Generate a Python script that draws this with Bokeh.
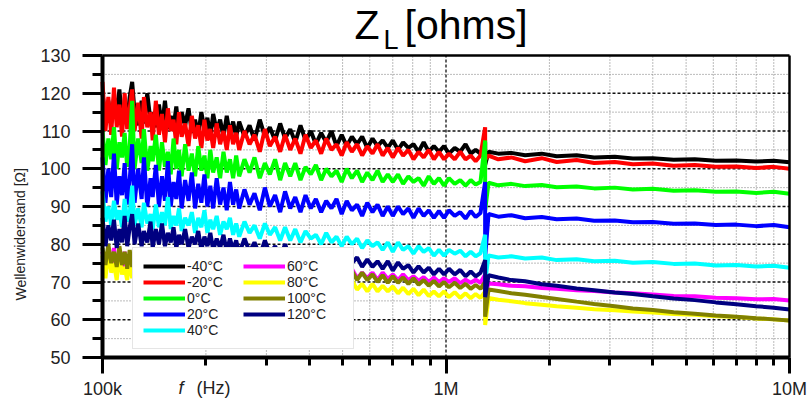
from math import pi
from bokeh.plotting import figure
from bokeh.models import FixedTicker, LabelSet, ColumnDataSource, Range1d, LogAxis, LinearAxis
from bokeh.core.properties import value
from bokeh.embed import file_html
from bokeh.resources import INLINE

# frequency points in kHz (the two 1300 kHz points form the resonance spike)
freq_khz = [100, 102, 104, 106, 108, 110, 112, 114, 116, 118,
            120, 122, 124, 127, 130, 132, 135, 138, 140, 143,
            146, 149, 152, 155, 158, 161, 164, 167, 170, 174,
            178, 182, 186, 190, 194, 198, 202, 206, 210, 215,
            220, 225, 230, 235, 240, 245,
            250, 259, 268, 277, 287, 297, 307, 318, 329, 340,
            352, 364, 377, 390, 404, 418, 433, 448, 464, 480,
            497, 514, 532, 551, 570, 590, 611, 632, 654, 677,
            700, 725, 750, 777, 804, 832, 861, 891, 922, 954,
            987, 1020, 1060, 1100, 1140, 1180, 1220, 1260,
            1300, 1300,
            1330, 1420, 1550, 1700, 1900, 2100, 2400, 2700, 3100, 3500,
            4000, 4600, 5300, 6100, 7000, 8000, 9000, 10000]

z_m40 = [120, 113.5, 118, 112, 119, 114.5, 121, 113, 117, 112.5,
         119, 123, 115, 111.5, 118, 112, 120, 112.5, 115, 111,
         117, 111, 118, 110.5, 114, 111, 116.5, 109.5, 115, 111.5,
         116, 109.5, 113, 109, 115, 110.5, 113.5, 108.5, 114.5, 110,
         113, 108.5, 114, 109, 112.5, 108.5,
         112.5, 108.5, 111.5, 107.5, 113, 108.5, 111, 107.5, 112, 108,
         110.5, 107, 111.5, 107.5, 110, 106.5, 109.5, 107, 110, 106,
         109, 106, 108.5, 106.5, 108.5, 105.5, 108, 106, 107.5, 105.5,
         107.5, 105, 107, 105.5, 106.5, 104.5, 107, 104.5, 106, 104.5,
         106, 104, 105.5, 104.5, 106.5, 104, 105, 104,
         107, 101,
         104.5, 104, 104.2, 103.6, 104, 103.3, 103.6, 103, 103.2, 102.7,
         102.8, 102.4, 102.5, 102.1, 102.2, 101.9, 102.1, 101.7]

z_m20 = [123, 110, 119, 109, 121.5, 111, 117, 108.5, 120, 110.5,
         116, 121, 110, 117.5, 108, 119, 111, 115, 107.5, 118,
         109, 114.5, 107, 116, 110, 113, 106.5, 115, 108.5, 112,
         106, 114, 108, 111.5, 105.5, 113, 107.5, 110.5, 105.5, 112,
         106.5, 110, 105, 111.5, 106.5, 109.5,
         105, 110, 106.5, 109, 104.5, 110.5, 106, 108.5, 104.5, 109,
         105, 108, 104, 109, 105.5, 107.5, 104, 108, 105, 106.5,
         103.5, 107, 104.5, 106.5, 103.5, 106, 104, 106.5, 103.5, 105.5,
         103, 105.5, 103.5, 105, 102.5, 104.5, 103, 105, 102.5, 104.5,
         102.5, 104, 102.5, 104.5, 102.5, 103.5, 102, 103.5,
         111, 102.5,
         103.5, 102.5, 103, 102, 102.8, 101.8, 102.3, 101.5, 101.8, 101.2,
         101.4, 100.8, 101, 100.5, 100.6, 100.2, 100.5, 100]

z_0 = [110, 101, 108, 102.5, 111, 100, 107, 103, 109.5, 100.5,
       106, 118, 100, 108, 101.5, 110.5, 99.5, 106, 102, 109,
       99.5, 107, 100.5, 104.5, 98.5, 108, 100, 105, 98, 106.5,
       99.5, 104, 98, 106, 99.5, 103.5, 97.5, 105, 99, 103,
       97.5, 104.5, 99, 102.5, 97.5, 103.5,
       98, 102.5, 99, 103, 97.5, 101.5, 98.5, 102.5, 97, 101.5,
       98, 101.5, 97, 100.5, 98.5, 101, 97, 100, 98, 99.5,
       96.5, 100, 97.5, 99.5, 96.5, 99, 97, 99.5, 96.5, 98.5,
       96.5, 98.5, 96, 98, 96.5, 97.5, 95.5, 98, 96, 97.5,
       95.5, 97.5, 96, 97, 95.5, 97, 95.8, 96.5,
       107.5, 89,
       96.3, 95.6, 96, 95.4, 95.7, 95.1, 95.3, 94.8, 95, 94.5,
       94.7, 94.2, 94.3, 93.9, 94, 93.6, 93.9, 93.4]

z_20 = [103, 91, 100, 92.5, 104, 90.5, 98, 93, 101.5, 90.5,
        97, 106.5, 91, 100, 92, 103, 90, 97.5, 92.5, 101,
        90, 98, 91.5, 102, 90, 96.5, 92, 99.5, 89.5, 97,
        91.5, 99, 89.5, 96, 91, 98.5, 90, 95.5, 89.5, 97.5,
        90.5, 95, 89, 96.5, 90.5, 94.5,
        89.5, 94.5, 90.5, 93.5, 89, 95, 90, 93, 88.5, 94,
        89.5, 92.5, 88.5, 93, 89.5, 92, 88.5, 91.5, 89.5, 92,
        88, 91.5, 89, 90.5, 87.5, 91, 88.5, 90.5, 87.5, 90,
        87.5, 90, 88, 89.5, 87, 89.5, 87.5, 89, 87, 88.8,
        87, 89, 87.5, 88.5, 86.8, 88.8, 87.2, 88.3,
        96.5, 76.5,
        88, 87.3, 87.7, 86.9, 87.2, 86.6, 86.8, 86.2, 86.3, 85.8,
        85.9, 85.4, 85.5, 85.1, 85.2, 84.8, 85.1, 84.5]

z_40 = [94, 86, 90, 85, 91.5, 86.5, 89, 84.5, 92, 86,
        88, 95.5, 85, 89.5, 84.5, 91, 85.5, 88, 84, 90.5,
        84.5, 88.5, 85, 92.5, 84, 87.5, 85, 89.5, 83.5, 87,
        85, 88.5, 83, 87, 84.5, 89, 83, 86.5, 84, 87.5,
        82.5, 86, 84, 87, 82.5, 85.5,
        82, 86, 83, 85, 81.5, 85.5, 82.5, 84.5, 81, 84.5,
        81, 84, 80.5, 83.5, 81.5, 82.5, 80, 83, 80.5, 82,
        79.5, 82, 80, 81.5, 79, 81, 79.5, 80.5, 78.5, 80.5,
        78, 80.5, 78.5, 79.5, 77.5, 79.5, 78, 79, 77, 78.5,
        77, 78.5, 77.5, 78.3, 76.8, 78, 76.8, 77.6,
        82.5, 70,
        77, 76.5, 76.8, 76.2, 76.5, 75.8, 76, 75.5, 75.6, 75.1,
        75.3, 74.8, 74.9, 74.4, 74.5, 74.1, 74.3, 73.8]

z_60 = [78, 73, 77, 74, 79, 73, 77, 74, 78, 73,
        76, 73, 77, 72.5, 76, 73, 76.5, 72.5, 76, 73,
        75.5, 72.5, 76, 72.5, 75, 72.5, 75, 72.5, 74.5, 72,
        74.5, 72, 75.5, 72.5, 74, 72, 75, 73, 74.5, 72.5,
        75, 72.5, 74.5, 73, 75, 72.5,
        75, 72.5, 74.5, 72, 75, 72.5, 74, 72, 74.5, 72,
        74, 72, 74.5, 71.5, 73.5, 72, 74, 71.5, 73.5, 71.5,
        73, 71.5, 73.5, 71, 72.5, 71, 72.5, 70.5, 72.5, 70.8,
        72, 70.5, 72, 70.5, 71.5, 70.3, 71.3, 70, 71.2, 70,
        71, 70, 71, 69.7, 70.6, 69.8, 70.6, 69.8,
        72, 67,
        69.6, 69.4, 69, 68.9, 68.4, 68.2, 67.8, 67.6, 67.2, 67,
        66.7, 66.3, 66.2, 65.8, 65.7, 65.4, 65.5, 65.1]

z_80 = [77, 71, 78, 72.5, 75, 70.5, 77, 72, 74, 70.5,
        76, 71, 74.5, 70.5, 75.5, 70.5, 74, 70, 74.5, 70,
        73.5, 69.5, 75, 70, 73, 69.5, 74, 69, 73, 70,
        72.5, 69.5, 73.5, 69, 72, 69.5, 73, 69, 72.5, 69.5,
        72, 69, 73, 69.5, 72, 69,
        72.5, 69.5, 72, 69, 72.5, 69.5, 71.5, 69, 72, 69.5,
        71.5, 69, 71.5, 68.5, 71, 69, 70.5, 68.5, 70.5, 68.5,
        70, 68, 70.5, 68, 69.5, 67.5, 69.5, 67.5, 69, 67.5,
        68.8, 67, 68.5, 66.8, 68.2, 66.5, 68, 66.3, 67.5, 66.2,
        67.5, 66, 67.3, 65.8, 67, 65.7, 66.8, 65.8,
        67.5, 58.6,
        65.8, 65.3, 64.9, 64.4, 64, 63.6, 63.2, 62.8, 62.5, 62.2,
        61.9, 61.5, 61.3, 60.9, 60.7, 60.3, 60.1, 59.8]

z_100 = [79, 74.5, 80, 75, 78, 74, 79.5, 74.5, 78, 73.5,
         78.5, 74, 77.5, 73.5, 78, 73.5, 77, 73.5, 77.5, 73,
         76.5, 73, 77.5, 73, 76, 72.5, 76.5, 73, 75.5, 72.5,
         76, 72.5, 75.5, 72, 76, 72.5, 75, 72, 75.5, 72,
         75, 72, 76, 72, 74.5, 72,
         75.5, 72.5, 75, 72, 75.5, 72, 74.5, 72, 75, 71.5,
         74.5, 71.5, 74.5, 72, 74, 71, 73.5, 71, 73.5, 71,
         73, 71, 73, 70.5, 72.5, 70.5, 72, 70, 71.8, 69.8,
         71.5, 69.8, 71.2, 69.5, 71, 69.3, 70.5, 69, 70.3, 68.8,
         70, 68.6, 69.8, 68.4, 69.5, 68.2, 69.2, 68.2,
         70, 60.8,
         68, 67.6, 67, 66.6, 66, 65.5, 64.8, 64.2, 63.6, 63,
         62.6, 62, 61.6, 61.1, 60.8, 60.4, 60.1, 59.8]

z_120 = [87, 79.5, 85, 81, 86.5, 79, 84, 80.5, 87.5, 79.5,
         84.5, 88, 80, 85.5, 79.5, 83.5, 80.5, 86, 79, 84,
         80, 85.5, 79.5, 83, 80.5, 84.5, 79, 82.5, 80, 84,
         79, 82, 80, 83.5, 78.5, 82, 79.5, 83, 78.5, 81.5,
         79, 82.5, 78, 81.5, 78.5, 81,
         77.5, 81.5, 78, 80.5, 77, 81, 77.5, 79.5, 76.5, 80,
         76, 79, 76.5, 78.5, 75.5, 78, 76, 77.5, 74.5, 77.5,
         74.5, 77, 75, 76.5, 74, 76, 74, 75.5, 73.5, 75.5,
         73, 75.2, 73.5, 74.5, 72.5, 74.2, 72.5, 73.8, 72, 73.5,
         72, 73.5, 72, 73.2, 71.5, 72.8, 71.5, 72.4,
         75.8, 66,
         71.8, 71.2, 70.5, 70.2, 69.4, 69, 68.3, 67.8, 67.2, 66.8,
         66.2, 65.6, 65.2, 64.6, 64.1, 63.6, 63.2, 62.7]

series_labels = ["-40°C", "-20°C", "0°C", "20°C", "40°C", "60°C", "80°C", "100°C", "120°C"]
series_colors = ["#000000", "#ff0000", "#00ff00", "#0000ff", "#00ffff",
                 "#ff00ff", "#ffff00", "#808000", "#000080"]
series_values = [z_m40, z_m20, z_0, z_20, z_40, z_60, z_80, z_100, z_120]

x_lo, x_hi = 1e5, 1e7
y_lo, y_hi = 50, 130
y_ticks = [50, 60, 70, 80, 90, 100, 110, 120, 130]
y_minor = [55, 65, 75, 85, 95, 105, 115, 125]
x_ticks = [1e5, 1e6, 1e7]
x_minor = [2e5, 3e5, 4e5, 5e5, 6e5, 7e5, 8e5, 9e5, 2e6, 3e6, 4e6, 5e6, 6e6, 7e6, 8e6, 9e6]
x_tick_labels = ["100k", "1M", "10M"]

# texts around the data box: title Z_L [ohms], y title, x title
outer_texts = ["Z", "L", "[ohms]", "Wellenwiderstand [Ω]", "f", "(Hz)"]

FONT = "Liberation Sans"
W, H = 809, 400
BOX_L, BOX_R, BOX_T, BOX_B = 102, 789, 55, 357  # pixel box of the data area

# the frame covers the whole canvas; ranges are widened so the data box sits at BOX_*
px_per_dec = (BOX_R - BOX_L) / 2.0
px_per_unit = (BOX_B - BOX_T) / float(y_hi - y_lo)
x_start = 10 ** (5 - BOX_L / px_per_dec)
x_end = 10 ** (7 + (W - BOX_R) / px_per_dec)
y_start = y_lo - (H - BOX_B) / px_per_unit
y_end = y_hi + BOX_T / px_per_unit

p = figure(width=W, height=H, x_axis_type="log",
           x_range=Range1d(x_start, x_end), y_range=Range1d(y_start, y_end),
           output_backend="svg", toolbar_location=None, min_border=0,
           background_fill_color="white", border_fill_color="white")
p.outline_line_color = None
p.xgrid.visible = False
p.ygrid.visible = False

# grid lines inside the data box
minor_style = dict(line_color="#777777", line_width=1, line_dash="1 2")
major_style = dict(line_color="#111111", line_width=1.3, line_dash="3 2")
p.segment(x0=[x_lo] * len(y_minor), x1=[x_hi] * len(y_minor), y0=y_minor, y1=y_minor, **minor_style)
p.segment(x0=x_minor, x1=x_minor, y0=[y_lo] * len(x_minor), y1=[y_hi] * len(x_minor), **minor_style)
y_inner = y_ticks[1:-1]
x_inner = x_ticks[1:-1]
p.segment(x0=[x_lo] * len(y_inner), x1=[x_hi] * len(y_inner), y0=y_inner, y1=y_inner, **major_style)
p.segment(x0=x_inner, x1=x_inner, y0=[y_lo] * len(x_inner), y1=[y_hi] * len(x_inner), **major_style)

freq_hz = [f * 1000 for f in freq_khz]
for lab, col, vals in zip(series_labels, series_colors, series_values):
    p.line(freq_hz, vals, line_color=col, line_width=4, legend_label=lab)

# axes drawn at the edges of the data box
yax = p.yaxis[0]
yax.ticker = FixedTicker(ticks=y_ticks, minor_ticks=y_minor)
yax.fixed_location = x_lo
yax.bounds = (y_lo, y_hi)
xax = p.xaxis[0]
xax.ticker = FixedTicker(ticks=x_ticks, minor_ticks=x_minor)
xax.major_label_overrides = {int(t): s for t, s in zip(x_ticks, x_tick_labels)}
xax.fixed_location = y_lo
xax.bounds = (x_lo, x_hi)

for ax in (xax, yax):
    ax.axis_line_width = 4
    ax.axis_line_color = "black"
    ax.major_tick_line_width = 3
    ax.minor_tick_line_width = 3
    ax.major_tick_line_color = "black"
    ax.minor_tick_line_color = "black"
    ax.major_tick_in = 0
    ax.minor_tick_in = 0
    ax.major_label_text_font = FONT
    ax.major_label_text_font_size = "18px"
    ax.major_label_text_color = "#222222"
yax.major_tick_out = 20
yax.minor_tick_out = 10
yax.major_label_standoff = 12
xax.major_tick_out = 16
xax.minor_tick_out = 8
xax.major_label_standoff = 5

# plain top and right border lines
top_ax = LogAxis(fixed_location=y_hi, bounds=(x_lo, x_hi), ticker=FixedTicker(ticks=[], minor_ticks=[]),
                 axis_line_width=2.5, axis_line_color="black", major_tick_out=0, minor_tick_out=0,
                 major_label_text_alpha=0)
right_ax = LinearAxis(fixed_location=x_hi, bounds=(y_lo, y_hi), ticker=FixedTicker(ticks=[], minor_ticks=[]),
                      axis_line_width=2.5, axis_line_color="black", major_tick_out=0, minor_tick_out=0,
                      major_label_text_alpha=0)
p.add_layout(top_ax, "above")
p.add_layout(right_ax, "right")

# legend
lg = p.legend[0]
lg.location = (132, 51)
lg.orientation = "vertical"
lg.nrows = 5
lg.label_text_font = FONT
lg.label_text_font_size = "14px"
lg.label_text_color = "#222222"
lg.glyph_width = 42
lg.glyph_height = 12
lg.label_height = 12
lg.label_width = 56
lg.label_standoff = 2
lg.spacing = 0
lg.padding = 10
lg.margin = 0
lg.border_line_color = "#cccccc"
lg.border_line_width = 1
lg.background_fill_alpha = 1

# texts (screen offsets from the canvas' bottom-left corner)
txt_src = ColumnDataSource(dict(
    x=[354, 383, 404, 25, 178, 196],
    y=[H - 38, H - 48, H - 38, H - 300, H - 393, H - 393],
    text=outer_texts,
    size=["41px", "27px", "41px", "14px", "18px", "18px"],
    style=["normal", "normal", "normal", "normal", "italic", "normal"],
    color=["black", "black", "black", "#222222", "#222222", "#222222"],
    angle=[0, 0, 0, pi / 2, 0, 0],
))
labels = LabelSet(x="x", y="y", text="text", source=txt_src, x_units="screen", y_units="screen",
                  text_font=value(FONT), text_font_size="size", text_font_style="style",
                  text_color="color", angle="angle", text_align="left", text_baseline="alphabetic")
p.add_layout(labels)

open("out.html", "w").write(file_html(p, INLINE))
